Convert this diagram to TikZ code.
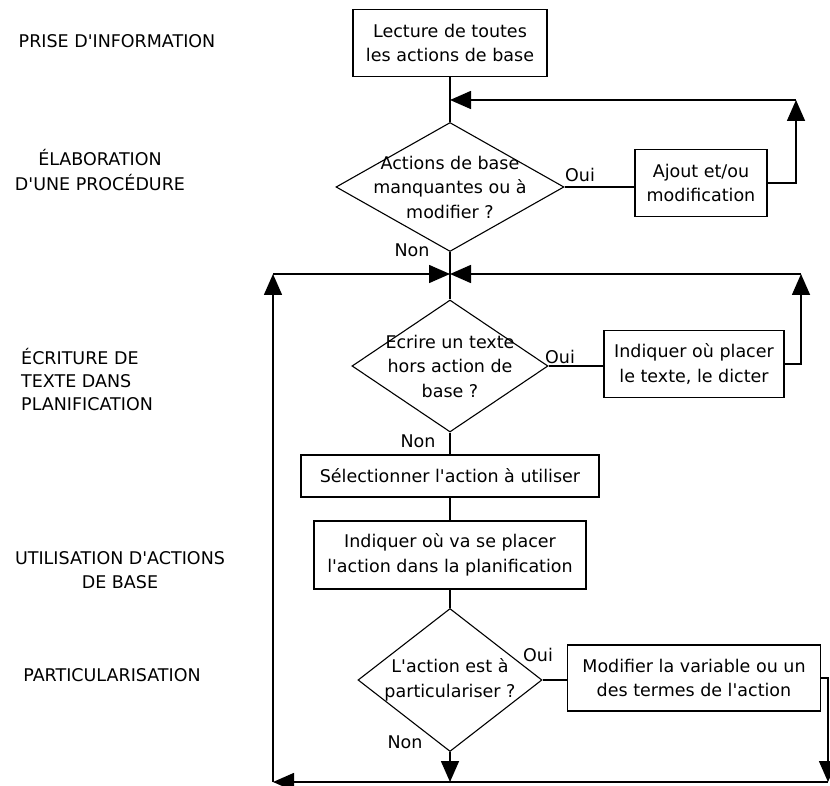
\documentclass[tikz,border=0pt]{standalone}
\usepackage{fontspec}
\newfontfamily\dvsans{DejaVu Sans}
\usetikzlibrary{arrows.meta,shapes.geometric}
\begin{document}
\begin{tikzpicture}[x=1pt,y=-1pt,
  font=\dvsans\fontsize{17.5}{24.5}\selectfont,
  box/.style={draw,line width=1.5pt,align=center,inner sep=0pt},
  dia/.style={draw,diamond,line width=1.1pt,inner sep=0pt},
  txt/.style={align=center,inner sep=0pt},
  lbl/.style={inner sep=0pt},
  line/.style={line width=1.6pt},
  arr/.style={line width=1.6pt,-{Triangle[length=21pt,width=18pt]}}]
\useasboundingbox (0,0) rectangle (830,786);
\fill[white] (0,0) rectangle (830,786);

% left phase labels
\node[lbl] (p1) at (117,41) {PRISE D'INFORMATION};
\node[lbl,align=center] (p2) at (100,170) {ÉLABORATION\\D'UNE PROCÉDURE};
\node[lbl,align=left,anchor=west,font=\dvsans\fontsize{17.5}{23}\selectfont] (p3) at (21,380) {ÉCRITURE DE\\TEXTE DANS\\PLANIFICATION};
\node[lbl,align=center] (p4) at (120,570) {UTILISATION D'ACTIONS\\DE BASE};
\node[lbl] (p5) at (112,675) {PARTICULARISATION};

% boxes and diamonds
\node[box,minimum width=194pt,minimum height=67pt] (lecture) at (450,43) {Lecture de toutes\\les actions de base};
\node[dia,minimum width=228pt,minimum height=129pt] (d1) at (450,187) {};
\node[txt] (d1t) at (d1) {Actions de base\\manquantes ou à\\modifier ?};
\node[box,minimum width=132pt,minimum height=67pt] (ajout) at (701,183) {Ajout et/ou\\modification};

\node[dia,minimum width=196pt,minimum height=132pt] (d2) at (450,366) {};
\node[txt] (d2t) at (d2) {Ecrire un texte\\hors action de\\base ?};
\node[box,minimum width=180pt,minimum height=67pt] (texte) at (694,364) {Indiquer où placer\\le texte, le dicter};

\node[box,minimum width=298pt,minimum height=42pt] (select) at (450,476) {Sélectionner l'action à utiliser};
\node[box,minimum width=272pt,minimum height=68pt] (placer) at (450,555) {Indiquer où va se placer\\l'action dans la planification};

\node[dia,minimum width=184pt,minimum height=143pt] (d3) at (450,680) {};
\node[txt] (d3t) at (d3) {L'action est à\\particulariser ?};
\node[box,minimum width=253pt,minimum height=66pt] (mod) at (694,678) {Modifier la variable ou un\\des termes de l'action};

% Oui / Non labels
\node[lbl] (oui1) at (580,175) {Oui};
\node[lbl] (non1) at (412,250) {Non};
\node[lbl] (oui2) at (560,357) {Oui};
\node[lbl] (non2) at (418,441) {Non};
\node[lbl] (oui3) at (538,655) {Oui};
\node[lbl] (non3) at (405,742) {Non};

% helper coordinates
\coordinate (m1) at (450,100);
\coordinate (r1) at (796,100);
\coordinate (r1b) at (796,183);
\coordinate (m2) at (450,274);
\coordinate (tl) at (273,274);
\coordinate (bl) at (273,782);
\coordinate (r2) at (801,274);
\coordinate (r2b) at (801,364);
\coordinate (b3) at (450,782);
\coordinate (r3a) at (828,678);
\coordinate (r3b) at (828,782);

% connectors
\draw[line] (lecture.south) -- (d1.north);
\draw[line] (d1.east) -- (d1.east -| ajout.west);
\draw[arr] (ajout.east) -- (r1b) -- (r1);
\draw[arr] (r1) -- (m1);
\draw[line] (d1.south) -- (d2.north);
\draw[arr] (bl) -- (tl);
\draw[arr] (tl) -- (m2);
\draw[line] (d2.east) -- (d2.east -| texte.west);
\draw[arr] (texte.east) -- (r2b) -- (r2);
\draw[arr] (r2) -- (m2);
\draw[line] (d2.south) -- (select.north);
\draw[line] (select.south) -- (placer.north);
\draw[line] (placer.south) -- (d3.north);
\draw[line] (d3.east) -- (d3.east -| mod.west);
\draw[arr] (d3.south) -- (b3);
\draw[arr] (mod.east |- r3a) -- (r3a) -- (r3b);
\draw[arr] (r3b) -- (bl);
\end{tikzpicture}
\end{document}
